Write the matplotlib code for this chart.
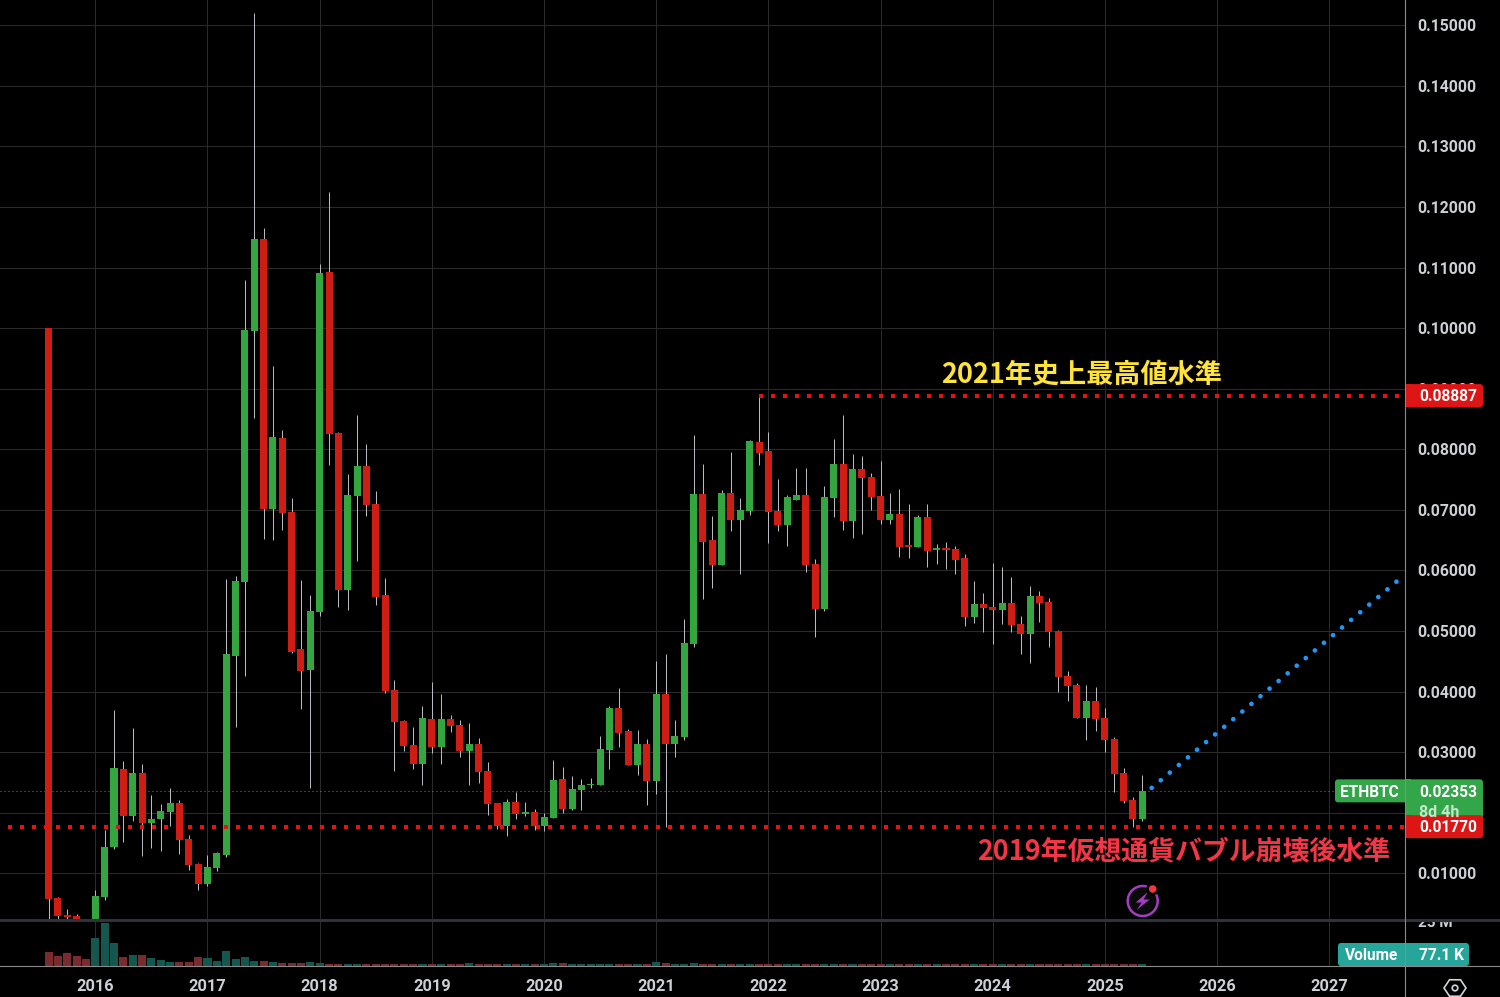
import numpy as np
import matplotlib
matplotlib.use("Agg")
import matplotlib.pyplot as plt
from matplotlib.patches import Circle, FancyBboxPatch, Polygon, Rectangle
from matplotlib.transforms import Bbox, TransformedBbox

# Monthly ETHBTC candles, Aug 2015 .. May 2025
opens = [
    .1000, .0059, .0031, .0030, .0024,
    .0024, .0061, .01435, .0272, .01947, .02657, .01831, .01897, .02013, .02161, .01567, .01154,
    .00824, .01088, .01303, .04588, .0581, .09956, .11475, .07015, .08189, .0697, .04704, .04357,
    .05315, .1093, .08272, .05678, .0723, .07725, .07098, .05595, .04027, .03515, .03121, .02807,
    .0355, .03088, .0355, .03451, .03022, .03138, .02692, .02163, .01784, .0218, .01982, .02015,
    .01784, .01916, .0256, .02064, .02378, .02461, .02461, .03039, .03732, .03352, .02791, .03138,
    .02527, .03963, .03138, .03253, .04793, .0727, .0651, .06097, .07286, .0684, .06989, .08128,
    .0798, .06989, .06758, .0717, .07253, .06114, .05371, .07204, .07765, .06824, .07682, .0755,
    .07237, .0684, .06939, .06411, .06395, .0689, .06345, .06362, .06362, .06213, .05239, .05451,
    .05402, .05352, .05468, .05121, .04956, .05583, .05484, .05006, .04263, .04114, .03569, .0385,
    .03569, .03222, .02661, .02215, .01901,
]
closes = [
    .0058, .0030, .00285, .0025, .0022,
    .0063, .01435, .02739, .01947, .02657, .01831, .01897, .02029, .02161, .0155, .01138, .00824,
    .01105, .01336, .04621, .05827, .09972, .11475, .07015, .08206, .0695, .04654, .04341, .05331,
    .10914, .08255, .05678, .07246, .07725, .07081, .05562, .0401, .03499, .03102, .02807, .03567,
    .03088, .0355, .03435, .03022, .03138, .02675, .02147, .01784, .0218, .01982, .02015, .01784,
    .01932, .02543, .02064, .02395, .02461, .02477, .03055, .03732, .03319, .02791, .03138, .02527,
    .03963, .03138, .0327, .04805, .0727, .06477, .06097, .07286, .0684, .07006, .08145, .07947,
    .06972, .06758, .0722, .07253, .06097, .05371, .0722, .07765, .06824, .07682, .07534, .0722,
    .0684, .06939, .06395, .06395, .0689, .06329, .06362, .06345, .0618, .05239, .05454, .05385,
    .05352, .05468, .05105, .04956, .05583, .05468, .04989, .04246, .04097, .03569, .0385, .03553,
    .03206, .02644, .02199, .01901, .02353,
]
highs = [
    .1000, .0061, .0041, .0033, .0025,
    .00725, .01715, .03697, .02855, .034, .02805, .02293, .02145, .02409, .02211, .01633, .0117,
    .01303, .01352, .0586, .05909, .1080, .15206, .11657, .09378, .08321, .07197, .05843, .05595,
    .11062, .12251, .08288, .07593, .08569, .0809, .07313, .05876, .04192, .03532, .03418, .03765,
    .04161, .03963, .03616, .03534, .03484, .03237, .0284, .02163, .0223, .02345, .0218, .02064,
    .01998, .02873, .02758, .0261, .0256, .02576, .0327, .03765, .04062, .03385, .03369, .0322,
    .04508, .04624, .03534, .05206, .08244, .07765, .06906, .07336, .07963, .07204, .08161, .08887,
    .08293, .07517, .07253, .07699, .07699, .06196, .07402, .08178, .08574, .0793, .07897, .07616,
    .07815, .07286, .07352, .07105, .06923, .07105, .06444, .06477, .06411, .06279, .05833, .05633,
    .06128, .06062, .05897, .05253, .05748, .05666, .0555, .05022, .04345, .04147, .04114, .04081,
    .03734, .03255, .02744, .02265, .02628,
]
lows = [
    .002, .002, .0025, .002, .0016,
    .002, .0056, .0140, .01517, .01864, .01286, .01418, .01369, .01781, .01319, .01055, .00725,
    .00791, .01039, .0127, .03416, .04258, .0852, .0652, .06503, .06669, .0464, .03713, .02409,
    .05249, .07744, .05397, .05348, .06157, .069, .0543, .03977, .0269, .0302, .02725, .02461,
    .02989, .02807, .03336, .02923, .02461, .02494, .01965, .01734, .01619, .019, .01949, .01718,
    .01701, .01916, .01998, .02048, .02048, .02411, .02461, .02725, .03088, .02791, .02626, .0213,
    .02312, .01767, .02923, .0320, .04744, .05536, .05718, .06097, .06659, .05949, .06923, .07748,
    .06461, .06659, .06411, .0717, .05982, .04909, .05338, .0689, .06675, .06543, .06609, .07006,
    .06774, .06774, .0623, .06213, .06395, .06064, .06114, .06031, .05949, .0509, .0514, .04989,
    .04791, .05121, .04989, .04626, .04477, .05154, .04741, .03998, .0385, .03569, .03206, .03354,
    .03008, .02347, .02166, .01769, .01868,
]
# volume in millions
volumes = [
    8.3, 5.9, 7.7, 5.9, 4.2,
    16.6, 25.5, 13.6, 5.3, 6.5, 6.5, 4.7, 3.6, 2.4, 2.4, 2.4, 5.3,
    4.7, 3.0, 8.9, 4.2, 5.3, 3.0, 3.0, 2.4, 1.8, 1.8, 1.8, 2.4,
    1.8, 1.2, 1.2, 1.2, 1.2, 1.2, 1.2, 1.2, 1.2, 1.2, 1.2, 1.2,
    1.2, 1.2, 1.2, 1.2, 1.8, 1.2, 1.2, 1.2, 1.2, 1.2, 1.2, 1.2,
    1.2, 1.8, 1.8, 1.2, 1.2, 1.2, 1.2, 1.2, 1.2, 1.2, 1.2, 1.2,
    2.4, 1.8, 1.2, 1.2, 1.8, 1.2, 1.2, 1.2, 1.2, 1.2, 1.2, 1.2,
    1.2, 1.2, 1.2, 1.2, 1.2, 1.2, 1.2, 1.2, 1.2, 1.2, 1.2, 1.2,
    1.1, 1.1, 1.1, 1.1, 1.1, 1.1, 1.1, 1.1, 1.1, 1.1, 1.1, 1.1,
    1.1, 1.1, 1.1, 1.1, 1.1, 1.1, 1.1, 1.1, 1.1, 1.1, 1.1, 1.1,
    1.1, 1.1, 1.1, 1.1, 1.1,
]
first_month = -5  # months relative to Jan 2016

years = [2016, 2017, 2018, 2019, 2020, 2021, 2022, 2023, 2024, 2025, 2026, 2027]
price_ticks = [0.01, 0.02, 0.03, 0.04, 0.05, 0.06, 0.07, 0.08, 0.09,
               0.10, 0.11, 0.12, 0.13, 0.14, 0.15]

last_price = 0.02353
ath_level = 0.08887
ath_start_month = 71.0
floor_level = 0.01770
floor_start_month = -9.34
level_end_month = 140.0
projection_months = [113.0, 140.0]
projection_prices = [0.0241, 0.0592]

GREEN = "#33a63f"
RED = "#cf1d14"
WICK = "#b8bac0"
GRID = "#2a2a2a"
TEXT = "#cdd0d6"
LABEL_RED = "#dd1515"
BADGE_GREEN = "#34a64a"
TEAL = "#26a69a"

W, H = 1500, 997
PANE_BOTTOM, VOL_BOTTOM, AXIS_X = 920, 966, 1405

fig = plt.figure(figsize=(W / 100, H / 100), dpi=100, facecolor="black")
ax = fig.add_axes([0, (H - PANE_BOTTOM) / H, AXIS_X / W, PANE_BOTTOM / H], facecolor="black")
ax_vol = fig.add_axes([0, (H - VOL_BOTTOM) / H, AXIS_X / W, (VOL_BOTTOM - PANE_BOTTOM) / H],
                      facecolor="black")

months = np.arange(len(opens)) + first_month
o = np.array(opens)
c = np.array(closes)
up = c >= o

# price pane
ax.vlines(months, lows, highs, color=WICK, lw=0.72, zorder=3)
ax.bar(months, np.maximum(np.abs(c - o), 0.0002), bottom=np.minimum(o, c), width=0.75,
       color=np.where(up, GREEN, RED), zorder=4)

ax.axhline(last_price, color="#4a9a60", lw=0.72, dashes=(1, 3), zorder=2)
ax.plot([floor_start_month, level_end_month], [floor_level, floor_level], color="#e01414",
        lw=2.88, dashes=(1, 2), dash_capstyle="butt", zorder=5)
ax.plot([ath_start_month, level_end_month], [ath_level, ath_level], color="#e01414", lw=2.88,
        dashes=(1, 2), dash_capstyle="butt", zorder=5)
ax.plot(projection_months, projection_prices, color="#2196f3", lw=3.4, dashes=(0.01, 2.5),
        dash_capstyle="round", zorder=5)

ax.set_xlim(-10.195, 140.1)
ax.set_ylim(0.00229, 0.15418)
ax.set_yticks(price_ticks)
# the 0.02000 label sits fully behind the last price badge
ax.set_yticklabels(["" if p == 0.02 else f"{p:.5f}" for p in price_ticks], fontfamily="Roboto",
                   fontweight="bold", fontsize=11.3, color=TEXT)
ax.yaxis.tick_right()
ax.tick_params(axis="y", length=0, pad=8.6)
year_pos = [(y - 2016) * 12 for y in years]
ax.set_xticks(year_pos)
ax.tick_params(axis="x", length=0, labelbottom=False)
ax.grid(True, color=GRID, lw=0.72, zorder=0)
ax.set_axisbelow(True)
for s in ax.spines.values():
    s.set_visible(False)

# volume pane
ax_vol.bar(months, volumes, width=0.86, color=np.where(up, "#14574f", "#7a2b2d"), zorder=3)
ax_vol.set_xlim(ax.get_xlim())
ax_vol.set_ylim(0, 27.2)
ax_vol.set_xticks(year_pos)
ax_vol.set_xticklabels([str(y) for y in years], fontfamily="Roboto", fontweight="bold",
                       fontsize=11.8, color=TEXT)
ax_vol.set_yticks([])
ax_vol.tick_params(axis="x", length=0, pad=9.5)
ax_vol.grid(True, axis="x", color=GRID, lw=0.72, zorder=0)
ax_vol.set_axisbelow(True)
for s in ax_vol.spines.values():
    s.set_visible(False)

# overlay in screen pixels for the frame, badges and icons
ov = fig.add_axes([0, 0, 1, 1], facecolor="none")
ov.set_xlim(0, W)
ov.set_ylim(H, 0)
ov.axis("off")


def price_px(p):
    return H - ax.transData.transform((0, p))[1]


def badge(x0, y0, x1, y1, color, z=6):
    ov.add_patch(FancyBboxPatch((x0 + 3, y0 + 3), x1 - x0 - 6, y1 - y0 - 6,
                                boxstyle="round,pad=3", fc=color, ec="none", zorder=z))


label_font = dict(family="Roboto", fontweight="bold", fontsize=11.2, va="center", zorder=8)

ov.plot([0, W], [PANE_BOTTOM, PANE_BOTTOM], color="#2f323c", lw=2.2, zorder=5)
ov.plot([0, W], [VOL_BOTTOM, VOL_BOTTOM], color="#8a8a8a", lw=0.8, zorder=7)
ov.plot([AXIS_X, AXIS_X], [0, H], color="#8a8a8a", lw=0.8, zorder=7)

# clipped volume scale label
t25 = ov.text(1418, 923, "25 M", color=TEXT, va="center", family="Roboto",
              fontweight="bold", fontsize=11, zorder=4)
t25.set_clip_box(TransformedBbox(Bbox([[1406, 921], [1500, 945]]), ov.transData))
t25.set_clip_on(True)

# last price
y_last = price_px(last_price)
badge(1335, y_last - 12, 1410, y_last + 11, BADGE_GREEN)
badge(1405, y_last - 12, 1483, y_last + 30, BADGE_GREEN)
ov.add_patch(Rectangle((1405, y_last - 12), 6, 42, fc=BADGE_GREEN, ec="none", zorder=6))
ov.text(1369, y_last + 1.5, "ETHBTC", color="white", ha="center", **label_font)
ov.text(1419, y_last + 1.5, f"{last_price:.5f}", color="white", **label_font)
ov.text(1419, y_last + 21, "8d 4h", color="#c4e6ca", family="Roboto", fontweight="bold",
        fontsize=11.5, va="center", zorder=8)

# level labels
for level in (ath_level, floor_level):
    y_lab = price_px(level)
    badge(1405, y_lab - 11.5, 1483, y_lab + 11.5, LABEL_RED)
    ov.add_patch(Rectangle((1405, y_lab - 11.5), 6, 23, fc=LABEL_RED, ec="none", zorder=6))
    ov.text(1419, y_lab + 1, f"{level:.5f}", color="white", **label_font)

# volume badge
badge(1338, 943, 1469, 966, TEAL)
ov.text(1372, 955.5, "Volume", color="white", ha="center", **label_font)
ov.text(1419, 955.5, "77.1 K", color="white", **label_font)

# annotations
jp_font = ["Noto Sans CJK JP", "DejaVu Sans"]
ov.text(1082, 375, "2021年史上最高値水準", color="#ffe338", family=jp_font, fontweight="bold",
        fontsize=19.5, ha="center", va="center", zorder=8)
ov.text(1184, 851, "2019年仮想通貨バブル崩壊後水準", color="#f23645", family=jp_font,
        fontweight="bold", fontsize=19.4, ha="center", va="center", zorder=8)

# lightning badge
ov.add_patch(Circle((1142.7, 901), 15, fc="#0a0a0a", ec="#a23ec0", lw=1.8, zorder=6))
bolt = np.array([[5, -9], [-7, 1.5], [-1, 1.5], [-6, 9], [7, -1.5], [1, -1.5]]) + [1142.7, 901]
ov.add_patch(Polygon(bolt, closed=True, fc="#a23ec0", ec="none", zorder=7))
ov.add_patch(Circle((1152.7, 889), 6.5, fc="black", ec="none", zorder=7))
ov.add_patch(Circle((1152.7, 889), 3.8, fc="#f23645", ec="none", zorder=8))

# settings icon
angles = np.deg2rad(np.arange(0, 360, 60))
hexagon = np.column_stack([1455 + 11 * np.cos(angles), 988 + 9.5 * np.sin(angles)])
ov.add_patch(Polygon(hexagon, closed=True, fc="none", ec="#d1d4dc", lw=1.2, zorder=7))
ov.add_patch(Circle((1455, 988), 2.8, fc="none", ec="#d1d4dc", lw=1.2, zorder=7))

fig.savefig("out.png", dpi=100, facecolor="black")
